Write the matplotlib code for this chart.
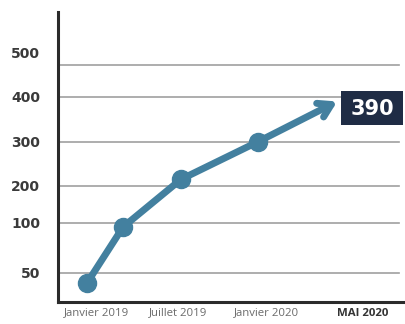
import numpy as np
import matplotlib
matplotlib.use("Agg")
from matplotlib import pyplot as plt
from matplotlib import transforms as mtransforms
from matplotlib.offsetbox import AnnotationBbox, DrawingArea
from matplotlib.patches import Rectangle
from matplotlib.text import Text

# months counted from janvier 2019
mois = [0, 2.3, 6, 10.9]
valeurs = [33, 96, 215, 300]
mois_fin = 16
valeur_fin = 390

tick_vals = [50, 100, 200, 300, 400, 500]
tick_mois = [0.6, 5.8, 11.5, 17.6]
tick_noms = ["Janvier 2019", "Juillet 2019", "Janvier 2020", "MAI 2020"]

# uneven vertical axis: gridlines are not spaced by value
knots_val = [0, 50, 100, 200, 300, 400, 500, 600]
knots_pos = [0, 29, 79, 116, 160, 205, 237, 290]

def fwd(v):
    return np.interp(v, knots_val, knots_pos)

def inv(p):
    return np.interp(p, knots_pos, knots_val)

bleu = "#43809f"
marine = "#1f2c45"

plt.rcParams["font.family"] = ["Open Sans", "DejaVu Sans"]

fig = plt.figure(figsize=(4.06, 3.24), dpi=100)
ax = fig.add_axes([0.143, 0.068, 0.857, 0.895])
ax.set_yscale("function", functions=(fwd, inv))
ax.set_ylim(0, 600)
ax.set_xlim(-1.86, 20.4)

for v in tick_vals:
    ax.axhline(v, color="#a0a0a0", lw=1.2, xmax=0.98, zorder=1)

ax.plot(mois, valeurs, color=bleu, lw=5, marker="o", ms=13,
        solid_capstyle="round", zorder=3)
ax.annotate("", xy=(mois_fin, valeur_fin), xytext=(mois[-1], valeurs[-1]),
            arrowprops=dict(arrowstyle="->,head_length=0.9,head_width=0.55",
                            lw=5, color=bleu, shrinkA=0, shrinkB=0),
            zorder=3)

# dark label box with the final value
bw, bh = 44.6, 23.8
da = DrawingArea(bw, bh, 0, 0, clip=False)
da.add_artist(Rectangle((0, 0), bw, bh, fc=marine, ec="none"))
da.add_artist(Text(bw / 2, bh / 2 - 0.5, str(valeur_fin), ha="center", va="center",
                   color="white", fontsize=15, fontweight="bold",
                   family="DejaVu Sans"))
ab = AnnotationBbox(da, (mois_fin, valeur_fin), xybox=(3, -4.7),
                    boxcoords="offset points", box_alignment=(0, 0.5),
                    frameon=False, pad=0)
ax.add_artist(ab)

ax.set_yticks(tick_vals)
ax.set_yticklabels([str(v) for v in tick_vals], fontweight="bold",
                   fontsize=10, color="#3a3a3a", family="DejaVu Sans")
ax.yaxis.set_minor_locator(matplotlib.ticker.NullLocator())
ax.set_xticks(tick_mois)
ax.set_xticklabels(tick_noms, fontsize=8.2, color="#6a6a6a")
ax.get_xticklabels()[-1].set_fontweight("bold")
ax.get_xticklabels()[-1].set_color("#333333")
ax.tick_params(axis="y", length=0, pad=13)
ax.tick_params(axis="x", length=0, pad=4)

# the top label sits a bit above its gridline
decal = mtransforms.ScaledTranslation(0, 12 / 100, fig.dpi_scale_trans)
haut = ax.yaxis.get_major_ticks()[-1].label1
haut.set_transform(haut.get_transform() + decal)

for s in ["top", "right"]:
    ax.spines[s].set_visible(False)
for s in ["left", "bottom"]:
    ax.spines[s].set_color("#2b2b2b")
    ax.spines[s].set_linewidth(2.2)

fig.savefig("out.png", dpi=100)
